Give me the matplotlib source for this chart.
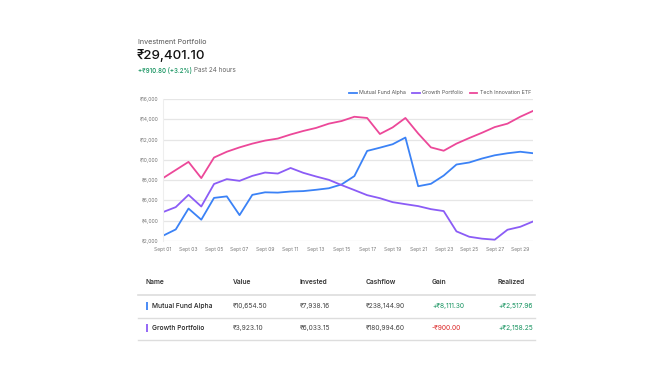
import matplotlib
matplotlib.use("Agg")
import matplotlib.pyplot as plt
from matplotlib.ticker import FuncFormatter

plt.rcParams['font.family'] = ['Inter', 'DejaVu Sans']

# donnees
days = ["Sept %02d" % d for d in range(1, 31)]
mutual_fund = [2520, 3140, 5200, 4100, 6250, 6400, 4550, 6550, 6800, 6770,
               6880, 6920, 7050, 7200, 7580, 8400, 10880, 11200, 11540, 12200,
               7400, 7640, 8450, 9540, 9740, 10130, 10450, 10650, 10800, 10654.5]
growth = [4850, 5340, 6550, 5400, 7620, 8100, 7930, 8420, 8750, 8650,
          9200, 8720, 8360, 8030, 7510, 7020, 6520, 6220, 5830, 5630,
          5440, 5140, 4950, 2950, 2420, 2230, 2130, 3110, 3400, 3923.1]
tech = [8200, 9000, 9800, 8200, 10230, 10800, 11230, 11600, 11900, 12100,
        12500, 12850, 13150, 13570, 13830, 14250, 14130, 12550, 13200, 14130,
        12600, 11230, 10900, 11600, 12150, 12670, 13230, 13570, 14250, 14823.5]
series_names = ["Mutual Fund Alpha", "Growth Portfolio", "Tech Innovation ETF"]
series_colors = ["#3b82f6", "#8b5cf6", "#ec4899"]

table_cols = ["Name", "Value", "Invested", "Cashflow", "Gain", "Realized"]
table_rows = [
    ["Mutual Fund Alpha", "₹10,654.50", "₹7,938.16", "₹238,144.90", "+₹8,111.30", "+₹2,517.96"],
    ["Growth Portfolio", "₹3,923.10", "₹6,033.15", "₹180,994.60", "-₹900.00", "+₹2,158.25"],
]
GREEN = "#15935f"
RED = "#dc2626"

W, H = 672, 378
fig = plt.figure(figsize=(W / 100, H / 100), dpi=100)
fig.patch.set_facecolor("white")

# couche en pixels pour les textes et le tableau
bg = fig.add_axes([0, 0, 1, 1])
bg.set_xlim(0, W)
bg.set_ylim(H, 0)
bg.set_axis_off()

#entete
bg.text(138, 42, "Investment Portfolio", fontsize=5.2, color="#555555", va="center")
bg.text(137, 56, "₹29,401.10", fontsize=9.6, color="#111111", va="center", fontweight="medium")
bg.text(138, 70, "+₹910.80 (+3.2%)", fontsize=4.5, color=GREEN, va="center", fontweight="medium")
bg.text(194, 70, "Past 24 hours", fontsize=4.6, color="#666666", va="center")

###############################
# graphique
ax = fig.add_axes([163 / W, 1 - 241 / H, (533 - 163) / W, (241 - 99) / H])
x = list(range(len(days)))
for vals, name, c in zip([mutual_fund, growth, tech], series_names, series_colors):
    ax.plot(x, vals, color=c, lw=1.3, label=name)
ax.set_xlim(0, len(days) - 1)
ax.set_ylim(2000, 16000)
ax.set_yticks(range(2000, 16001, 2000))
ax.yaxis.set_major_formatter(FuncFormatter(lambda v, p: "₹{:,.0f}".format(v)))
ax.set_xticks(x[::2])
ax.set_xticklabels(days[::2])
ax.tick_params(axis="both", length=0, labelsize=3.6, colors="#777777")
ax.tick_params(axis="y", pad=3)
ax.tick_params(axis="x", pad=4)
ax.grid(axis="y", color="#e6e6e6", lw=0.9)
ax.set_axisbelow(True)
for s in ["top", "right", "bottom"]:
    ax.spines[s].set_visible(False)
ax.spines["left"].set_color("#eeeeee")
ax.legend(loc="lower right", bbox_to_anchor=(1.0, 1.01), ncol=3, frameon=False,
          fontsize=3.8, handlelength=1.4, handletextpad=0.5, columnspacing=1.2,
          borderaxespad=0, labelcolor="#555555")

###############################
# tableau
col_x = [145, 233, 300, 366, 432, 498]
for cx, name in zip(col_x, table_cols):
    bg.text(cx, 282, name, fontsize=4.8, color="#333333", va="center", fontweight="semibold")
bg.plot([138, 535], [294.5, 294.5], color="#dddddd", lw=1.2)
row_y = [306, 328]
for ry, row, c in zip(row_y, table_rows, series_colors):
    bg.plot([146.5, 146.5], [ry - 4, ry + 4], color=c, lw=1.3, solid_capstyle="butt")
    bg.text(152, ry, row[0], fontsize=4.8, color="#222222", va="center", fontweight="medium")
    for cx, val in zip(col_x[1:], row[1:]):
        col = "#444444"
        if val.startswith("+"):
            col = GREEN
        elif val.startswith("-"):
            col = RED
        bg.text(cx, ry, val, fontsize=4.8, color=col, va="center")
    bg.plot([138, 535], [ry + 11.5, ry + 11.5], color="#dddddd", lw=1.0)

fig.savefig("out.png", dpi=100)
